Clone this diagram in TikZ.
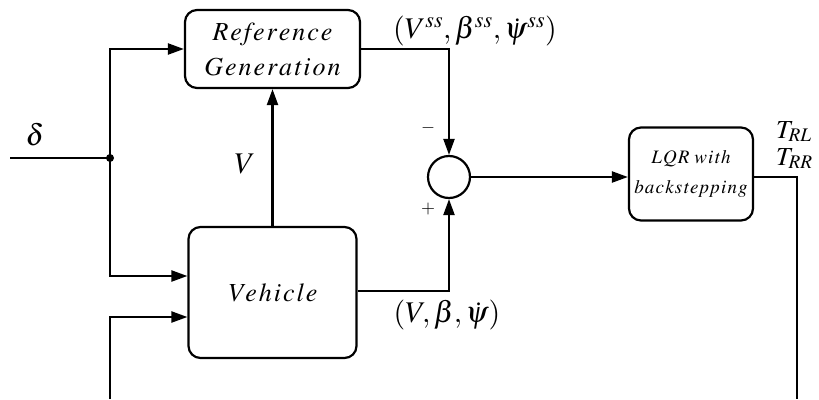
\documentclass[tikz,border=0pt]{standalone}
\usepackage{mathptmx}
\usepackage[no-math]{fontspec}
\setmainfont{Liberation Serif}
\usetikzlibrary{arrows.meta}
\newcommand\timesit{\fontencoding{OT1}\fontfamily{ptm}\fontshape{it}\selectfont}
\def\lskernval{2pt}
\def\ls#1{\lsfirst#1\relax}
\def\lsfirst#1{#1\lsaux}
\def\lsaux#1{\ifx\relax#1\else\kern\lskernval\relax#1\expandafter\lsaux\fi}
\newcommand\bigfont{\fontsize{26}{35}\timesit\def\lskernval{2pt}}
\newcommand\smallfont{\fontsize{19}{30}\timesit\def\lskernval{1.2pt}}
\tikzset{
  blk/.style={draw, line width=2.2pt, rounded corners=12pt, align=center, inner sep=0pt},
  wire/.style={line width=2.2pt},
  arr/.style={wire, -{Triangle[length=16pt,width=11pt]}},
  bigtxt/.style={font=\bigfont},
  smalltxt/.style={font=\smallfont},
  mlab/.style={font=\fontsize{30}{34}\selectfont, inner sep=0pt},
  tlab/.style={font=\fontsize{26}{28}\selectfont, inner sep=0pt, anchor=base west},
  sgn/.style={font=\fontsize{18}{20}\selectfont, inner sep=0pt},
}
\begin{document}
\begin{tikzpicture}[x=1pt,y=-1pt]
\useasboundingbox (0,0) rectangle (819,399);
\node[blk, bigtxt, minimum width=175pt, minimum height=78pt] (ref) at (272.5,49) {\ls{Reference}\\\ls{Generation}};
\node[blk, bigtxt, minimum width=168pt, minimum height=131pt] (veh) at (272.5,292.5) {\ls{Vehicle}};
\node[blk, smalltxt, minimum width=124pt, minimum height=93pt] (lqr) at (691,174) {\ls{LQR} \ls{with}\\\ls{backstepping}};
\node[draw, circle, line width=2.2pt, minimum size=42pt, inner sep=0pt] (sum) at (449,177) {};
\coordinate (inL) at (10,158);
\coordinate (j) at (110,158);
\coordinate (botL) at (110,399);
\coordinate (botR) at (797,399);
\fill (j) circle (4pt);
\draw[wire] (inL) -- (j);
\draw[arr] (j) |- (ref.west);
\draw[arr] (j) |- ([yshift=16.5pt]veh.west);
\draw[arr] (botL) |- ([yshift=-24.5pt]veh.west);
\draw[arr] (veh.north) -- (ref.south);
\draw[arr] (ref.east) -| (sum.north);
\draw[arr] ([yshift=1.5pt]veh.east) -| (sum.south);
\draw[arr] (sum.east) -- (sum.east -| lqr.west);
\draw[wire] (sum.east -| lqr.east) -| (botR);
\node[mlab] (dl) at (35,135) {$\delta$};
\node[mlab] (vl) at (245,164) {$V$};
\node[mlab] (refl) at (475,31) {$(V^{ss},\beta^{ss},\dot{\psi}^{ss})$};
\node[mlab] (vehl) at (447,315) {$(V,\beta,\dot{\psi})$};
\node[sgn] (mi) at (428,128) {$-$};
\node[sgn] (pl) at (428,209) {$+$};
\node[tlab] (trl) at (776,138) {$T_{RL}$};
\node[tlab] (trr) at (776,165) {$T_{RR}$};
\end{tikzpicture}
\end{document}
